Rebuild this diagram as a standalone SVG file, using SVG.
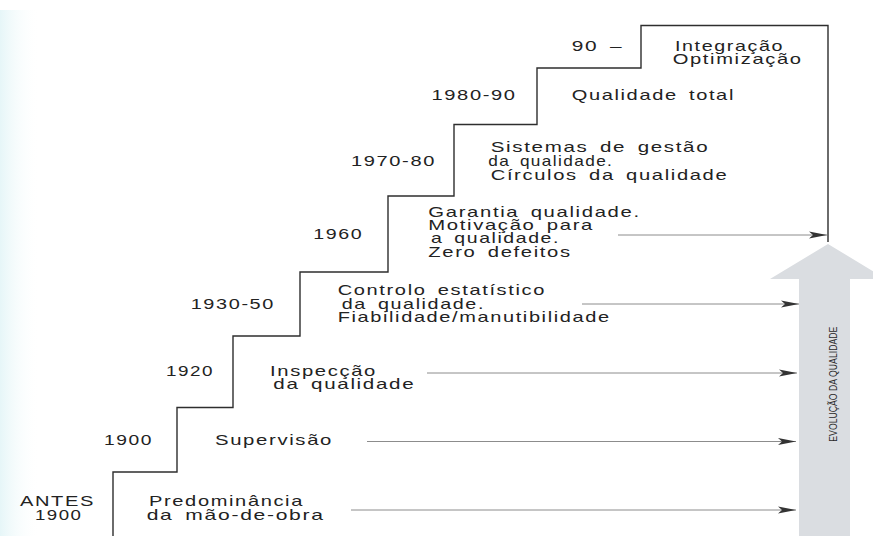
<svg xmlns="http://www.w3.org/2000/svg" width="873" height="536" viewBox="0 0 873 536">
  <style>
    .t { font-family: "Liberation Sans", Arial, sans-serif; font-size: 14.8px; letter-spacing: 1.2px; word-spacing: 3px; fill: #222; }
    .stair { fill: none; stroke: #2e2e2e; stroke-width: 1.4; }
    .conn { stroke: #8c8c8c; stroke-width: 1; fill: none; }
    .big { fill: #dadde1; }
    .big-label { font-family: "Liberation Sans", Arial, sans-serif; font-size: 11.5px; fill: #2a2a2a; }
  </style>
  <defs>
    <marker id="head" markerUnits="userSpaceOnUse" markerWidth="20" markerHeight="10" refX="18" refY="4" orient="auto">
      <path d="M0,0.5 L18,4 L0,7.5 L4,4 Z" fill="#333"/>
    </marker>
    <linearGradient id="edge" x1="0" y1="0" x2="1" y2="0">
      <stop offset="0" stop-color="#e6f6f8"/>
      <stop offset="1" stop-color="#ffffff" stop-opacity="0"/>
    </linearGradient>
  </defs>

  <rect width="873" height="536" fill="#ffffff"/>
  <rect x="0" y="10" width="40" height="526" fill="url(#edge)"/>

  <!-- rising quality arrow -->
  <g id="evolution-arrow">
    <polygon class="big" points="828,244 886,279 850,279 850,536 799,536 799,279 770,279"/>
    <text class="big-label" transform="translate(836.5,441.7) rotate(-90)" textLength="115" lengthAdjust="spacingAndGlyphs">EVOLUÇÃO DA QUALIDADE</text>
  </g>

  <!-- staircase outline -->
  <g id="staircase">
    <path class="stair" d="M113,536 V472 H177 V407.5 H233 V336 H300 V272 H388 V196 H454 V124.5 H537 V68 H641 V25.5 H828 V242"/>
  </g>

  <!-- horizontal connectors into the arrow -->
  <g id="connectors">
    <line class="conn" x1="618" y1="235" x2="827" y2="235" marker-end="url(#head)"/>
    <line class="conn" x1="582" y1="304" x2="799" y2="304" marker-end="url(#head)"/>
    <line class="conn" x1="427" y1="373" x2="797" y2="373" marker-end="url(#head)"/>
    <line class="conn" x1="367" y1="441.5" x2="796" y2="441.5" marker-end="url(#head)"/>
    <line class="conn" x1="351" y1="510" x2="796" y2="510" marker-end="url(#head)"/>
  </g>

  <g id="step-antes-1900">
    <text class="t" x="20" y="506" textLength="75" lengthAdjust="spacingAndGlyphs">ANTES</text>
    <text class="t" x="35" y="519.5" textLength="47.5" lengthAdjust="spacingAndGlyphs">1900</text>
    <text class="t" x="149" y="506" textLength="155" lengthAdjust="spacingAndGlyphs">Predominância</text>
    <text class="t" x="146.7" y="519.5" textLength="178" lengthAdjust="spacingAndGlyphs">da mão-de-obra</text>
  </g>

  <g id="step-1900">
    <text class="t" x="104" y="445" textLength="49" lengthAdjust="spacingAndGlyphs">1900</text>
    <text class="t" x="215" y="445" textLength="118" lengthAdjust="spacingAndGlyphs">Supervisão</text>
  </g>

  <g id="step-1920">
    <text class="t" x="166" y="376" textLength="48" lengthAdjust="spacingAndGlyphs">1920</text>
    <text class="t" x="270" y="375.5" textLength="107" lengthAdjust="spacingAndGlyphs">Inspecção</text>
    <text class="t" x="273.3" y="389.3" textLength="142" lengthAdjust="spacingAndGlyphs">da qualidade</text>
  </g>

  <g id="step-1930-50">
    <text class="t" x="190.7" y="308.5" textLength="84.3" lengthAdjust="spacingAndGlyphs">1930-50</text>
    <text class="t" x="337.7" y="295" textLength="208.3" lengthAdjust="spacingAndGlyphs">Controlo estatístico</text>
    <text class="t" x="341.7" y="308.5" textLength="143.3" lengthAdjust="spacingAndGlyphs">da qualidade.</text>
    <text class="t" x="337.7" y="322" textLength="273" lengthAdjust="spacingAndGlyphs">Fiabilidade/manutibilidade</text>
  </g>

  <g id="step-1960">
    <text class="t" x="313.3" y="238.5" textLength="50" lengthAdjust="spacingAndGlyphs">1960</text>
    <text class="t" x="428.3" y="216.7" textLength="212.4" lengthAdjust="spacingAndGlyphs">Garantia qualidade.</text>
    <text class="t" x="428.3" y="230" textLength="165.7" lengthAdjust="spacingAndGlyphs">Motivação para</text>
    <text class="t" x="431" y="243.3" textLength="129" lengthAdjust="spacingAndGlyphs">a qualidade.</text>
    <text class="t" x="428.3" y="256.7" textLength="143.4" lengthAdjust="spacingAndGlyphs">Zero defeitos</text>
  </g>

  <g id="step-1970-80">
    <text class="t" x="351" y="165.5" textLength="85" lengthAdjust="spacingAndGlyphs">1970-80</text>
    <text class="t" x="490.7" y="151.7" textLength="218.6" lengthAdjust="spacingAndGlyphs">Sistemas de gestão</text>
    <text class="t" x="488.3" y="165.5" textLength="125" lengthAdjust="spacingAndGlyphs">da qualidade.</text>
    <text class="t" x="490.7" y="179.5" textLength="237.6" lengthAdjust="spacingAndGlyphs">Círculos da qualidade</text>
  </g>

  <g id="step-1980-90">
    <text class="t" x="431.5" y="100" textLength="85.2" lengthAdjust="spacingAndGlyphs">1980-90</text>
    <text class="t" x="571.7" y="100" textLength="163.3" lengthAdjust="spacingAndGlyphs">Qualidade total</text>
  </g>

  <g id="step-90">
    <text class="t" x="571.7" y="50.7" textLength="51.6" lengthAdjust="spacingAndGlyphs">90 –</text>
    <text class="t" x="675" y="50.7" textLength="109" lengthAdjust="spacingAndGlyphs">Integração</text>
    <text class="t" x="672.7" y="64" textLength="130" lengthAdjust="spacingAndGlyphs">Optimização</text>
  </g>
</svg>
